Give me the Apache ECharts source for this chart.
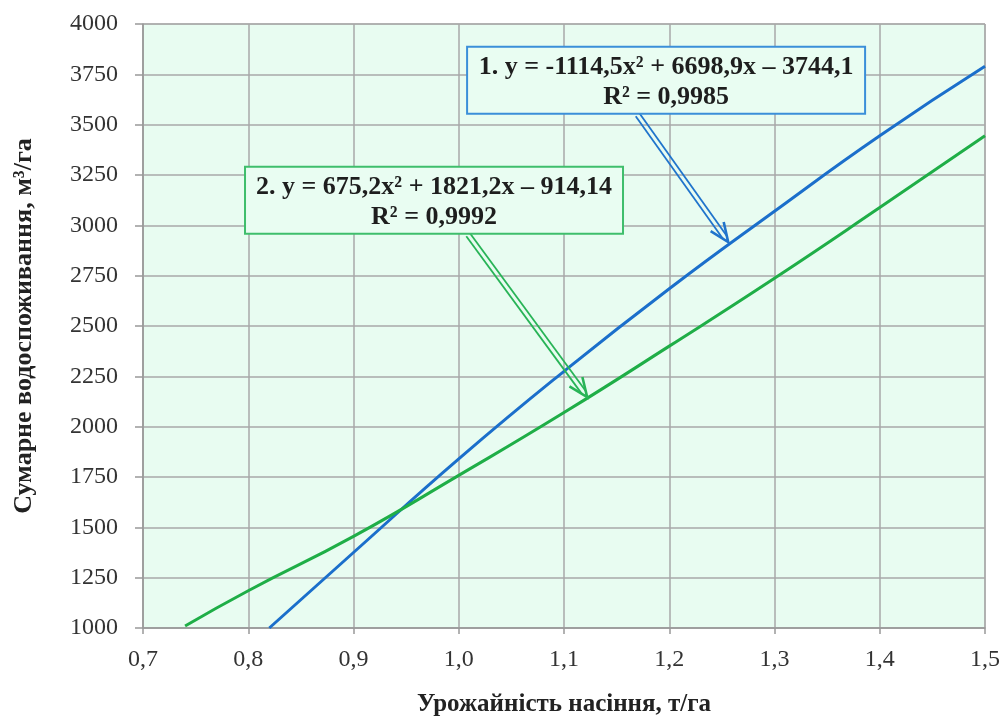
<!DOCTYPE html>
<html><head><meta charset="utf-8">
<script src="https://cdn.jsdelivr.net/npm/echarts@6/dist/echarts.min.js"></script>
<style>html,body{margin:0;padding:0;background:#fff}#c{width:1003px;height:717px}</style>
</head><body><div id="c"></div>
<script>
// ---- data ----
const blueX = [0.82, 0.9, 1.0, 1.1, 1.2, 1.3, 1.4, 1.5];
const blueY = [1000, 1375, 1840, 2275, 2685, 3070, 3445, 3790];
const greenX = [0.74, 0.8, 0.9, 1.0, 1.1, 1.2, 1.3, 1.4, 1.5];
const greenY = [1010, 1185, 1455, 1758, 2070, 2400, 2737, 3088, 3445];
const xTicks = [0.7, 0.8, 0.9, 1.0, 1.1, 1.2, 1.3, 1.4, 1.5];
const yTicks = [1000, 1250, 1500, 1750, 2000, 2250, 2500, 2750, 3000, 3250, 3500, 3750, 4000];
const eq1 = ['1. y = -1114,5x² + 6698,9x – 3744,1', 'R² = 0,9985'];
const eq2 = ['2. y = 675,2x² + 1821,2x – 914,14', 'R² = 0,9992'];
const xTitle = 'Урожайність насіння, т/га';
const yTitle = 'Сумарне водоспоживання, м³/га';
// annotation anchors in data coordinates
const ann1 = {center: [1.197, 3720], tailX: 1.17, tip: [1.256, 2917]};
const ann2 = {center: [0.9765, 3124], tailX: 1.009, tip: [1.122, 2147]};

const FONT = '"Liberation Serif","Times New Roman",serif';
const chart = echarts.init(document.getElementById('c'), null, {renderer: 'canvas'});
const zip = (xs, ys) => xs.map((x, i) => [x, ys[i]]);

chart.setOption({
  animation: false,
  backgroundColor: '#ffffff',
  grid: {left: 143, right: 18, top: 24, bottom: 89, show: true, containLabel: false,
         outerBoundsMode: 'none',
         backgroundColor: '#e8fcf1', borderColor: '#a0a0a0', borderWidth: 1},
  xAxis: {
    type: 'value', min: xTicks[0], max: xTicks[xTicks.length - 1], interval: 0.1,
    name: xTitle, nameLocation: 'middle', nameGap: 64,
    nameTextStyle: {fontFamily: FONT, fontWeight: 'bold', fontSize: 25, color: '#222'},
    axisLine: {lineStyle: {color: '#999', width: 1.5}},
    axisTick: {show: true, length: 6, lineStyle: {color: '#999', width: 1.5}},
    axisLabel: {fontFamily: FONT, fontSize: 24, color: '#333', margin: 20,
                formatter: v => v.toFixed(1).replace('.', ',')},
    splitLine: {show: true, lineStyle: {color: '#a8a8a8', width: 1.5}}
  },
  yAxis: {
    type: 'value', min: yTicks[0], max: yTicks[yTicks.length - 1], interval: 250,
    name: yTitle, nameLocation: 'middle', nameGap: 106, nameRotate: 90,
    nameTextStyle: {fontFamily: FONT, fontWeight: 'bold', fontSize: 26, color: '#222'},
    axisLine: {show: true, lineStyle: {color: '#999', width: 1.5}},
    axisTick: {show: true, length: 8, lineStyle: {color: '#999', width: 1.5}},
    axisLabel: {fontFamily: FONT, fontSize: 24, color: '#333', margin: 25,
                formatter: v => String(v)},
    splitLine: {show: true, lineStyle: {color: '#a8a8a8', width: 1.5}}
  },
  series: [
    {type: 'line', data: zip(blueX, blueY), smooth: true, showSymbol: false,
     lineStyle: {color: '#1b6fcb', width: 3}, z: 3},
    {type: 'line', data: zip(greenX, greenY), smooth: true, showSymbol: false,
     lineStyle: {color: '#1fae47', width: 3}, z: 3}
  ]
});

function annotation(a, lines, w, h, border, arrowColor) {
  const c = chart.convertToPixel({gridIndex: 0}, a.center);
  const tip = chart.convertToPixel({gridIndex: 0}, a.tip);
  const tailPx = chart.convertToPixel({gridIndex: 0}, [a.tailX, a.center[1]]);
  const left = c[0] - w / 2, top = c[1] - h / 2;
  const tail = [tailPx[0], top + h + 1];
  const dx = tip[0] - tail[0], dy = tip[1] - tail[1];
  const L = Math.hypot(dx, dy);
  const d = [dx / L, dy / L], n = [-d[1], d[0]];
  const off = 2.4;
  const end = [tip[0] - d[0] * 6, tip[1] - d[1] * 6];
  const els = [];
  [-off, off].forEach(o => {
    els.push({type: 'line', z: 20, shape: {x1: tail[0] + n[0] * o, y1: tail[1] + n[1] * o,
      x2: end[0] + n[0] * o, y2: end[1] + n[1] * o}, style: {stroke: arrowColor, lineWidth: 1.8}});
  });
  const hl = 19, hw = 8;
  els.push({type: 'polyline', z: 20, shape: {points: [
    [tip[0] - d[0] * hl + n[0] * hw, tip[1] - d[1] * hl + n[1] * hw],
    tip,
    [tip[0] - d[0] * hl - n[0] * hw, tip[1] - d[1] * hl - n[1] * hw]]},
    style: {stroke: arrowColor, lineWidth: 2.6, fill: null, lineJoin: 'miter'}});
  els.push({type: 'rect', z: 21, shape: {x: left, y: top, width: w, height: h},
    style: {fill: '#e9fdf2', stroke: border, lineWidth: 2}});
  els.push({type: 'text', z: 22, x: c[0], y: top + 20, style: {text: lines[0],
    font: 'bold 26px ' + FONT, fill: '#1e1e1e', textAlign: 'center', textVerticalAlign: 'middle'}});
  els.push({type: 'text', z: 22, x: c[0], y: top + 50, style: {text: lines[1],
    font: 'bold 26px ' + FONT, fill: '#1e1e1e', textAlign: 'center', textVerticalAlign: 'middle'}});
  return els;
}

chart.setOption({graphic: {elements: [
  ...annotation(ann1, eq1, 398, 67, '#3b8fd9', '#2074cc'),
  ...annotation(ann2, eq2, 378, 67, '#3fbe6c', '#28b457')
]}});
</script></body></html>
